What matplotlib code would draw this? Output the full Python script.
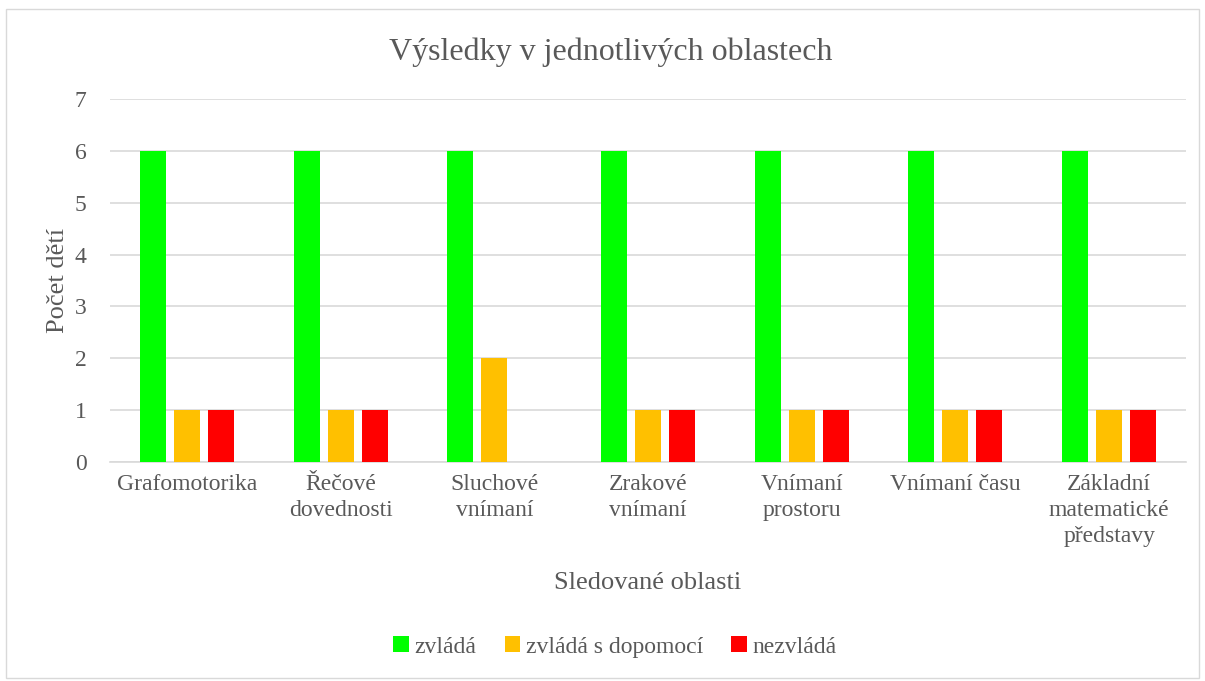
import numpy as np
import matplotlib.pyplot as plt
from matplotlib.patches import Rectangle

categories = ["Grafomotorika", "Řečové\ndovednosti", "Sluchové\nvnímaní", "Zrakové\nvnímaní",
              "Vnímaní\nprostoru", "Vnímaní času", "Základní\nmatematické\npředstavy"]
series_names = ["zvládá", "zvládá s dopomocí", "nezvládá"]
zvlada = [6, 6, 6, 6, 6, 6, 6]
s_dopomoci = [1, 1, 2, 1, 1, 1, 1]
nezvlada = [1, 1, 0, 1, 1, 1, 1]
colors = ["#00FF00", "#FFC000", "#FF0000"]

plt.rcParams["font.family"] = ["Liberation Serif", "DejaVu Serif"]
text_color = "#595959"

fig = plt.figure(figsize=(12.05, 6.81), dpi=100)
ax = fig.add_axes([110 / 1205, 1 - 462 / 681, 1076 / 1205, 363 / 681])

fig.patches.append(Rectangle((6 / 1205, 1 - 678 / 681), 1193 / 1205, 669 / 681,
                             transform=fig.transFigure, fill=False,
                             edgecolor="#D9D9D9", linewidth=1))

x = np.arange(len(categories))
width = 0.169
offset = 0.221
for i, (vals, name) in enumerate(zip([zvlada, s_dopomoci, nezvlada], series_names)):
    ax.bar(x + (i - 1) * offset, vals, width, color=colors[i], label=name, zorder=3)

ax.set_xlim(-0.5, len(categories) - 0.5)
ax.set_ylim(0, 7)
ax.set_yticks(range(8))
ax.yaxis.grid(True, color="#D9D9D9", linewidth=1.2, zorder=0)
for s in ["top", "right", "left"]:
    ax.spines[s].set_visible(False)
ax.spines["bottom"].set_color("#D9D9D9")
ax.spines["bottom"].set_linewidth(1.2)
ax.tick_params(axis="both", length=0, labelsize=17, colors=text_color, pad=9)
ax.tick_params(axis="y", pad=17)
ax.set_xticks(x)
ax.set_xticklabels(categories, linespacing=1.3, va="top")

ax.set_title("Výsledky v jednotlivých oblastech", fontsize=23, color=text_color,
             x=(611 - 110) / 1076, pad=28)
ax.set_ylabel("Počet dětí", fontsize=19, color=text_color, labelpad=4)
ax.set_xlabel("Sledované oblasti", fontsize=19, color=text_color, labelpad=18)

leg = fig.legend(loc="center", bbox_to_anchor=(615 / 1205, 1 - 647 / 681), ncol=3, frameon=False,
                 fontsize=17, handlelength=0.65, handleheight=0.65, handletextpad=0.25,
                 columnspacing=1.2)
for t in leg.get_texts():
    t.set_color(text_color)

fig.savefig("out.png", dpi=100)
